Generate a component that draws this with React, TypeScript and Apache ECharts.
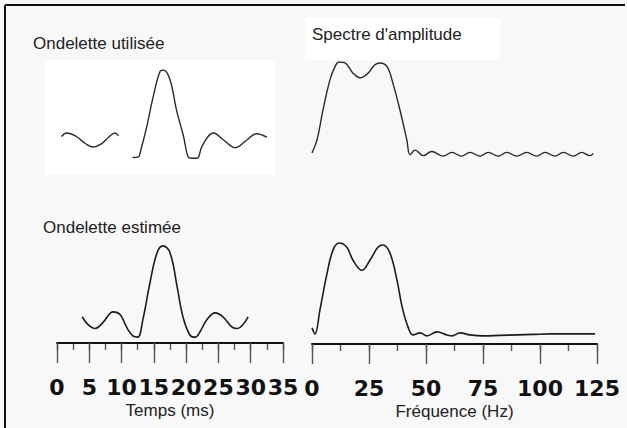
import React, { useEffect, useRef } from "react";
import * as echarts from "echarts";

// Tick values
const timeTicks = [0, 5, 10, 15, 20, 25, 30, 35];
const freqTicks = [0, 25, 50, 75, 100, 125];

// Panel titles
const titleUsed = "Ondelette utilisée";
const titleSpectrum = "Spectre d'amplitude";
const titleEstimated = "Ondelette estimée";
const timeAxisName = "Temps (ms)";
const freqAxisName = "Fréquence (Hz)";

// Wavelet used (top left) – time in ms, amplitude (null = gap)
const usedTime = [0.7, 1.5, 3.0, 4.4, 5.6, 6.8, 8.0, 9.0, 9.5, 10.6, 11.7, 12.6, 12.85, 13.9, 14.9, 15.95, 16.5, 17.5, 18.5, 19.6, 20.3, 20.9, 21.7, 22.4, 23.4, 24.2, 25.8, 27.6, 29.4, 30.9, 32.5];
const usedAmp = [0.05, 0.1, 0.05, -0.05, -0.1, -0.06, 0.04, 0.1, 0.06, null, -0.25, -0.24, -0.19, 0.19, 0.62, 0.98, 1.0, 0.86, 0.43, 0.05, -0.24, -0.26, -0.26, -0.1, 0.05, 0.1, 0.0, -0.11, 0.0, 0.09, 0.04];

// Amplitude spectrum of the wavelet used (top right) – frequency Hz, amplitude
const usedSpecFreq = [0, 2.2, 4.8, 7.9, 10.1, 11.8, 14.5, 18.0, 21.1, 24.6, 27.6, 29.8, 32.9, 35.5, 38.6, 41.6, 43.0, 45.2, 48.8, 52.5, 57.6, 61.3, 65.6, 69.3, 73.7, 77.3, 81.7, 85.4, 89.8, 94.2, 98.5, 102.2, 106.6, 110.2, 114.6, 118.3, 121.9, 123.4];
const usedSpecAmp = [0.02, 0.16, 0.48, 0.81, 0.95, 1.0, 0.99, 0.88, 0.83, 0.88, 0.97, 0.99, 0.95, 0.77, 0.48, 0.16, 0.0, 0.05, -0.01, 0.035, -0.015, 0.025, -0.015, 0.025, -0.015, 0.025, -0.015, 0.025, -0.015, 0.025, -0.015, 0.025, -0.015, 0.025, -0.015, 0.025, -0.01, 0.015];

// Estimated wavelet (bottom left)
const estTime = [3.9, 4.8, 5.9, 7.1, 8.7, 9.8, 10.8, 11.8, 12.5, 13.3, 14.4, 15.5, 16.4, 17.5, 18.6, 19.5, 20.6, 21.4, 22.1, 23.2, 24.5, 25.7, 27.2, 28.0, 28.8, 29.6];
const estAmp = [0.27, 0.19, 0.15, 0.21, 0.32, 0.29, 0.16, 0.07, 0.06, 0.24, 0.62, 0.93, 1.0, 0.93, 0.58, 0.27, 0.08, 0.06, 0.11, 0.24, 0.31, 0.27, 0.16, 0.15, 0.19, 0.27];

// Amplitude spectrum of the estimated wavelet (bottom right)
const estSpecFreq = [0, 1.3, 3.5, 6.6, 9.2, 11.8, 15.2, 18.0, 21.9, 25.4, 29.0, 31.1, 34.2, 37.3, 39.5, 42.1, 44.3, 47.4, 50.4, 54.8, 59.2, 61.4, 64.9, 69.3, 75, 82.5, 89.9, 97, 104.4, 111.8, 124.1];
const estSpecAmp = [0.16, 0.1, 0.34, 0.7, 0.93, 1.0, 0.96, 0.83, 0.73, 0.83, 0.96, 0.98, 0.9, 0.63, 0.37, 0.17, 0.09, 0.11, 0.08, 0.12, 0.09, 0.08, 0.11, 0.09, 0.08, 0.085, 0.09, 0.095, 0.1, 0.1, 0.1];

const pairs = (xs: number[], ys: (number | null)[]) =>
  xs.map((x, i) => [x, ys[i] === null ? "-" : ys[i]]);

const LINE = "#1c1c1c";
const SANS = "'Liberation Sans', Arial, sans-serif";

// Major axis: line, long ticks, labels, name
const majorAxis = (grid: number, ticks: number[], name: string) => ({
  type: "value",
  gridIndex: grid,
  min: ticks[0],
  max: ticks[ticks.length - 1],
  interval: ticks[1] - ticks[0],
  axisLine: { show: true, onZero: false, lineStyle: { color: "#111", width: 2 } },
  axisTick: { show: true, length: 20, lineStyle: { color: "#555", width: 1.4 } },
  splitLine: { show: false },
  axisLabel: {
    margin: 33,
    fontFamily: "'DejaVu Sans', Verdana, sans-serif",
    fontWeight: "bold",
    fontSize: 22,
    color: "#111",
  },
  name,
  nameLocation: "middle",
  nameGap: 59,
  nameTextStyle: { fontFamily: SANS, fontSize: 17, color: "#222" },
  z: 3,
});

// Minor axis: short ticks at half intervals only
const minorAxis = (grid: number, ticks: number[]) => ({
  type: "value",
  gridIndex: grid,
  min: ticks[0],
  max: ticks[ticks.length - 1],
  interval: (ticks[1] - ticks[0]) / 2,
  position: "bottom",
  offset: 0,
  axisLine: { show: false, onZero: false },
  axisTick: { show: true, length: 7, lineStyle: { color: "#555", width: 1.4 } },
  axisLabel: { show: false },
  splitLine: { show: false },
});

export default function App() {
  const ref = useRef<HTMLDivElement>(null);

  useEffect(() => {
    document.body.style.margin = "0";
    if (!ref.current) return;
    const chart = echarts.init(ref.current, null, { renderer: "svg" });
    const titleStyle = { fontFamily: SANS, fontSize: 17, fontWeight: "normal", color: "#222" };
    chart.setOption({
      animation: false,
      backgroundColor: "#f8f8f8",
      graphic: [
        { type: "rect", z: -10, shape: { x: 45, y: 60, width: 230, height: 115 }, style: { fill: "#ffffff" } },
        { type: "rect", z: -10, shape: { x: 305, y: 18, width: 195, height: 42 }, style: { fill: "#ffffff" } },
        { type: "line", shape: { x1: 5, y1: 5, x2: 625, y2: 5 }, style: { stroke: "#111", lineWidth: 2 } },
        { type: "line", shape: { x1: 5, y1: 5, x2: 5, y2: 428 }, style: { stroke: "#111", lineWidth: 2 } },
      ],
      title: [
        { text: titleUsed, left: 33, top: 35, padding: 0, textStyle: titleStyle },
        { text: titleSpectrum, left: 312, top: 26, padding: 0, textStyle: titleStyle },
        { text: titleEstimated, left: 43, top: 219, padding: 0, textStyle: titleStyle },
      ],
      grid: [
        { left: 57, top: 70, width: 226, height: 105 },
        { left: 312, top: 62, width: 285, height: 102 },
        { left: 57, top: 241, width: 226, height: 102 },
        { left: 312, top: 238, width: 285, height: 106 },
      ],
      xAxis: [
        { type: "value", gridIndex: 0, min: timeTicks[0], max: timeTicks[timeTicks.length - 1], show: false },
        { type: "value", gridIndex: 1, min: freqTicks[0], max: freqTicks[freqTicks.length - 1], show: false },
        majorAxis(2, timeTicks, timeAxisName),
        majorAxis(3, freqTicks, freqAxisName),
        minorAxis(2, timeTicks),
        minorAxis(3, freqTicks),
      ],
      yAxis: [
        { type: "value", gridIndex: 0, min: -0.5, max: 1.0, show: false },
        { type: "value", gridIndex: 1, min: -0.1, max: 1.0, show: false },
        { type: "value", gridIndex: 2, min: 0, max: 1.05, show: false },
        { type: "value", gridIndex: 3, min: 0, max: 1.05, show: false },
      ],
      series: [
        { type: "line", xAxisIndex: 0, yAxisIndex: 0, data: pairs(usedTime, usedAmp), smooth: 0.4, showSymbol: false, connectNulls: false, lineStyle: { color: "#2a2a2a", width: 1.4 } },
        { type: "line", xAxisIndex: 1, yAxisIndex: 1, data: pairs(usedSpecFreq, usedSpecAmp), smooth: 0.4, showSymbol: false, lineStyle: { color: "#2a2a2a", width: 1.4 } },
        { type: "line", xAxisIndex: 2, yAxisIndex: 2, data: pairs(estTime, estAmp), smooth: 0.4, showSymbol: false, lineStyle: { color: LINE, width: 1.6 } },
        { type: "line", xAxisIndex: 3, yAxisIndex: 3, data: pairs(estSpecFreq, estSpecAmp), smooth: 0.4, showSymbol: false, lineStyle: { color: LINE, width: 1.6 } },
      ],
    });
    return () => chart.dispose();
  }, []);

  return <div ref={ref} style={{ width: 627, height: 428 }} />;
}
